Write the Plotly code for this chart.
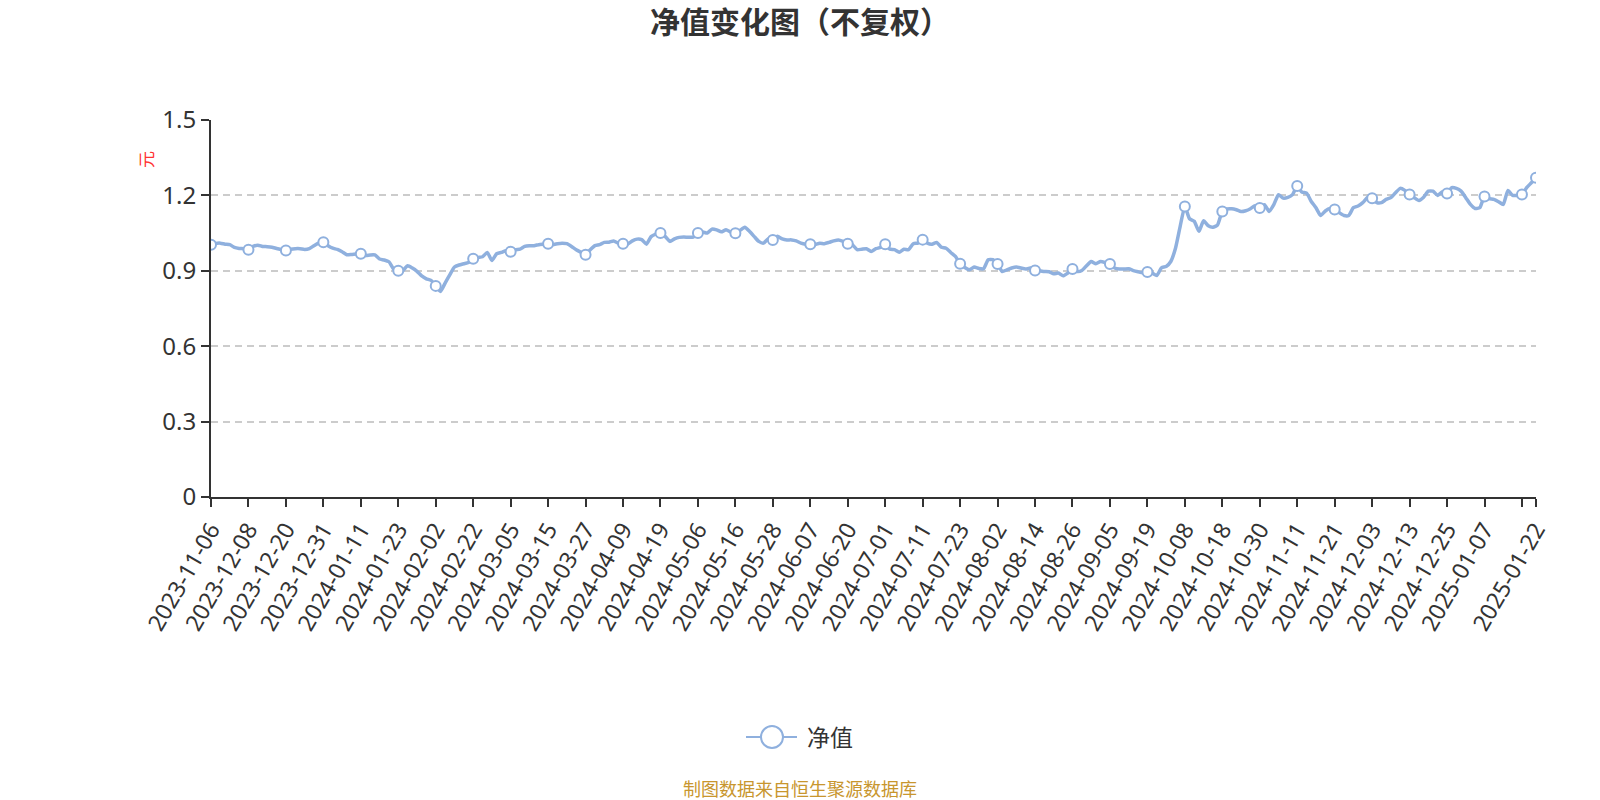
import pandas as pd
import plotly.graph_objects as go

# 建仓期按周披露，之后按交易日披露
early_dates = ["2023-11-06", "2023-11-10", "2023-11-17", "2023-11-24",
               "2023-12-01", "2023-12-05", "2023-12-06", "2023-12-07"]
holidays = ["2024-01-01", "2024-02-09", "2024-02-12", "2024-02-13", "2024-02-14",
            "2024-02-15", "2024-02-16", "2024-04-04", "2024-04-05", "2024-05-01",
            "2024-05-02", "2024-05-03", "2024-06-10", "2024-09-16", "2024-09-17",
            "2024-10-01", "2024-10-02", "2024-10-03", "2024-10-04", "2024-10-07",
            "2025-01-01"]
period_end_dates = ["2023-12-31", "2024-03-31", "2024-06-30"]

nav = [
    1.004, 1.009, 1.010, 1.006, 1.004, 0.993, 0.989, 0.988, 0.984, 0.997,
    1.002, 0.997, 0.996, 0.994, 0.989, 0.985, 0.981, 0.986, 0.988, 0.988,
    0.985, 0.988, 1.000, 1.010, 1.014, 1.000, 0.990, 0.985, 0.976, 0.964,
    0.965, 0.967, 0.968, 0.961, 0.963, 0.963, 0.947, 0.943, 0.936, 0.907,
    0.900, 0.902, 0.920, 0.911, 0.898, 0.880, 0.868, 0.862, 0.840, 0.818,
    0.851, 0.884, 0.915, 0.923, 0.928, 0.933, 0.948, 0.953, 0.956, 0.973,
    0.941, 0.968, 0.973, 0.980, 0.976, 0.984, 0.986, 0.997, 1.000, 1.000,
    1.004, 1.006, 1.008, 1.004, 1.008, 1.010, 1.008, 0.997, 0.984, 0.974,
    0.964, 0.984, 1.000, 1.004, 1.013, 1.014, 1.019, 1.010, 1.008, 1.006,
    1.019, 1.026, 1.024, 1.006, 1.036, 1.046, 1.050, 1.037, 1.017, 1.027,
    1.033, 1.034, 1.033, 1.034, 1.050, 1.054, 1.050, 1.066, 1.063, 1.055,
    1.063, 1.054, 1.049, 1.061, 1.073, 1.057, 1.037, 1.017, 1.010, 1.027,
    1.023, 1.037, 1.027, 1.023, 1.023, 1.019, 1.010, 1.006, 1.006, 1.004,
    1.010, 1.008, 1.013, 1.019, 1.023, 1.017, 1.008, 1.004, 0.984, 0.986,
    0.988, 0.977, 0.988, 0.993, 1.006, 0.986, 0.984, 0.974, 0.986, 0.984,
    1.008, 1.010, 1.024, 1.010, 1.006, 1.013, 0.994, 0.990, 0.973, 0.957,
    0.928, 0.913, 0.904, 0.915, 0.909, 0.908, 0.944, 0.944, 0.927, 0.897,
    0.904, 0.911, 0.915, 0.911, 0.907, 0.911, 0.901, 0.900, 0.897, 0.896,
    0.888, 0.891, 0.880, 0.891, 0.907, 0.897, 0.901, 0.920, 0.937, 0.928,
    0.937, 0.933, 0.927, 0.911, 0.907, 0.907, 0.908, 0.901, 0.896, 0.892,
    0.895, 0.891, 0.881, 0.912, 0.917, 0.937, 0.990, 1.077, 1.156, 1.107,
    1.097, 1.057, 1.099, 1.079, 1.073, 1.083, 1.136, 1.146, 1.147, 1.143,
    1.136, 1.139, 1.147, 1.159, 1.150, 1.163, 1.136, 1.163, 1.203, 1.189,
    1.192, 1.203, 1.237, 1.213, 1.209, 1.176, 1.151, 1.120, 1.138, 1.148,
    1.144, 1.131, 1.120, 1.120, 1.151, 1.158, 1.171, 1.191, 1.189, 1.171,
    1.171, 1.184, 1.191, 1.211, 1.228, 1.220, 1.204, 1.191, 1.180, 1.193,
    1.217, 1.217, 1.200, 1.215, 1.208, 1.231, 1.228, 1.217, 1.191, 1.164,
    1.148, 1.151, 1.196, 1.187, 1.184, 1.175, 1.164, 1.220, 1.200, 1.200,
    1.204, 1.231, 1.250, 1.270,
]

y_ticks = [0, 0.3, 0.6, 0.9, 1.2, 1.5]
y_ticktext = ["0", "0.3", "0.6", "0.9", "1.2", "1.5"]

days = pd.bdate_range("2023-12-08", "2025-01-22")
days = days[~days.isin(pd.to_datetime(holidays))]
days = days.append(pd.to_datetime(period_end_dates)).sort_values()
dates = early_dates + [d.strftime("%Y-%m-%d") for d in days]
assert len(dates) == len(nav), (len(dates), len(nav))

LINE_COLOR = "#8FB0DE"
FONT = "Noto Sans, Noto Sans CJK SC, sans-serif"

step = 8
mark_idx = list(range(0, len(dates), step))
if mark_idx[-1] != len(dates) - 1:
    mark_idx.append(len(dates) - 1)
tick_vals = [dates[i] for i in mark_idx]
# 最后两个刻度太近，倒数第二个标签被隐藏
tick_text = [dates[i] for i in mark_idx]
tick_text[-2] = ""

fig = go.Figure()
fig.add_trace(go.Scatter(
    x=dates, y=nav, mode="lines", showlegend=False,
    line=dict(color=LINE_COLOR, width=3.5, shape="spline", smoothing=0.5),
    hovertemplate="%{x}<br>净值: %{y:.4f}<extra></extra>",
))
fig.add_trace(go.Scatter(
    x=[dates[i] for i in mark_idx], y=[nav[i] for i in mark_idx],
    mode="markers", showlegend=False, hoverinfo="skip",
    marker=dict(size=10, color="white", line=dict(color=LINE_COLOR, width=2)),
))

# 图例与来源说明居中于整张画布（画布中心 x=800）
W, H = 1600, 800
ml, mr, mt, mb = 211, 64, 120, 303
pw, ph = W - ml - mr, H - mt - mb


def px_x(x):
    return (x - ml) / pw


def px_y(y):
    return (H - mb - y) / ph


fig.update_layout(
    width=W, height=H,
    paper_bgcolor="white", plot_bgcolor="white",
    font=dict(family=FONT, color="#333333", size=22),
    margin=dict(l=ml, r=mr, t=mt, b=mb),
    title=dict(text="<b>净值变化图（不复权）</b>", x=0.5, xanchor="center",
               y=1 - 22 / H, yanchor="middle",
               font=dict(size=30, color="#333333", family=FONT)),
    showlegend=False,
)
fig.update_xaxes(
    type="category", range=[0, len(dates) - 1],
    tickmode="array", tickvals=tick_vals, ticktext=tick_text, tickangle=-60,
    showgrid=False, showline=True, linecolor="#333333", linewidth=2,
    ticks="outside", ticklen=8, tickwidth=1.5, tickcolor="#333333",
    tickfont=dict(size=23, color="#333333"), zeroline=False,
)
fig.update_yaxes(
    range=[0, 1.5], tickmode="array", tickvals=y_ticks, ticktext=y_ticktext,
    showgrid=True, gridcolor="#CCCCCC", gridwidth=1.5, griddash="7px,5px",
    showline=True, linecolor="#333333", linewidth=2,
    ticks="outside", ticklen=8, tickwidth=1.5, tickcolor="#333333",
    tickfont=dict(size=24, color="#333333"), zeroline=False,
)
fig.add_annotation(
    text="元", xref="paper", yref="paper", x=px_x(146), y=px_y(160),
    xanchor="center", yanchor="middle",
    showarrow=False, textangle=-90, font=dict(size=17, color="#FF3333"),
)

# 图例：线段 + 空心圆 + 文字
leg_y = px_y(737)
fig.add_shape(type="line", xref="paper", yref="paper",
              x0=px_x(746), x1=px_x(797), y0=leg_y, y1=leg_y,
              line=dict(color=LINE_COLOR, width=2))
fig.add_shape(type="circle", xref="paper", yref="paper",
              x0=px_x(761), x1=px_x(783), y0=px_y(748), y1=px_y(726),
              fillcolor="white", line=dict(color=LINE_COLOR, width=2))
fig.add_annotation(
    text="净值", xref="paper", yref="paper", x=px_x(805), y=leg_y,
    xanchor="left", yanchor="middle", showarrow=False,
    font=dict(size=23, color="#333333"),
)
fig.add_annotation(
    text="制图数据来自恒生聚源数据库", xref="paper", yref="paper",
    x=px_x(800), y=px_y(789), xanchor="center", yanchor="middle", showarrow=False,
    font=dict(size=18, color="#C8962E"),
)

fig.write_html("out.html", config={"displayModeBar": False},
               post_script="document.body.style.margin='0px';")
